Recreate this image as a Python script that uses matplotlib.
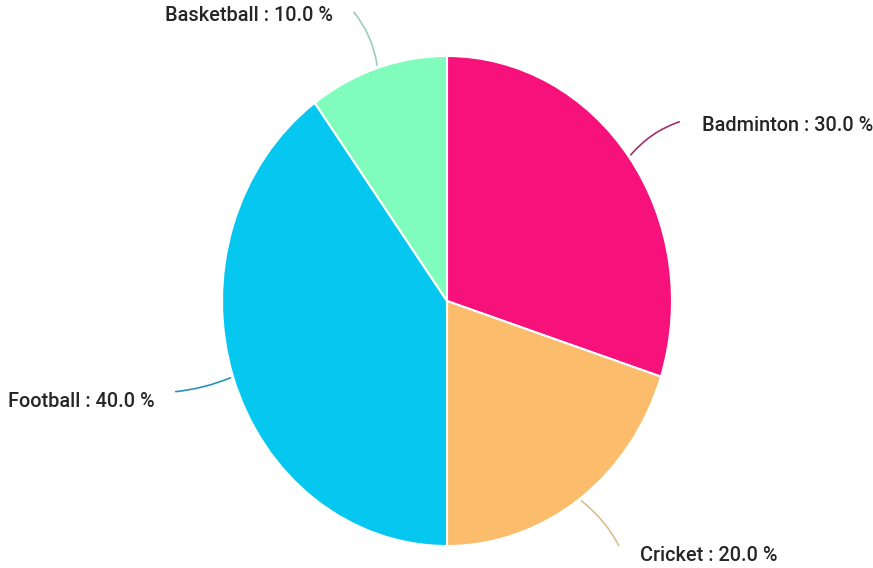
import numpy as np
import matplotlib.pyplot as plt

plt.rcParams["font.family"] = ["Roboto", "DejaVu Sans"]

sports = ["Badminton", "Cricket", "Football", "Basketball"]
shares = [30.0, 20.0, 40.0, 10.0]
colors = ["#F7117A", "#FBBC6B", "#05C7EF", "#80FDBC"]
line_colors = ["#A0306E", "#D8C08E", "#2A93B8", "#9CCDB6"]

# label placement (data units, radius 1 pie)
label_pos = [(1.133, 0.718), (0.858, -1.037), (-1.298, -0.412), (-0.507, 1.167)]
label_ha = ["left", "left", "right", "right"]
line_end = [(1.044, 0.735), (0.769, -1.008), (-1.218, -0.371), (-0.422, 1.188)]
rads = [0.15, 0.12, 0.08, -0.15]

fig = plt.figure(figsize=(8.73, 5.68), dpi=100)
ax = fig.add_axes([0, 0, 1, 1])

wedges, _ = ax.pie(shares, colors=colors, startangle=90, counterclock=False,
                   wedgeprops=dict(edgecolor="white", linewidth=1.5))

# horizontal radius ~225 px, vertical ~245 px, centre at (447, 301)
ax.set_xlim(-447 / 225, (873 - 447) / 225)
ax.set_ylim(-(568 - 301) / 245, 301 / 245)
ax.set_aspect("auto")
ax.axis("off")

for i, w in enumerate(wedges):
    ang = np.deg2rad((w.theta1 + w.theta2) / 2)
    xs, ys = np.cos(ang), np.sin(ang)
    ax.annotate("", xy=(xs, ys), xytext=line_end[i],
                arrowprops=dict(arrowstyle="-", color=line_colors[i], lw=1.2,
                                connectionstyle="arc3,rad=%s" % rads[i]))
    ax.text(label_pos[i][0], label_pos[i][1], "%s : %.1f %%" % (sports[i], shares[i]),
            ha=label_ha[i], va="center", fontsize=14.3, fontweight="medium",
            color="#262626")

fig.savefig("out.png", dpi=100, facecolor="white")
